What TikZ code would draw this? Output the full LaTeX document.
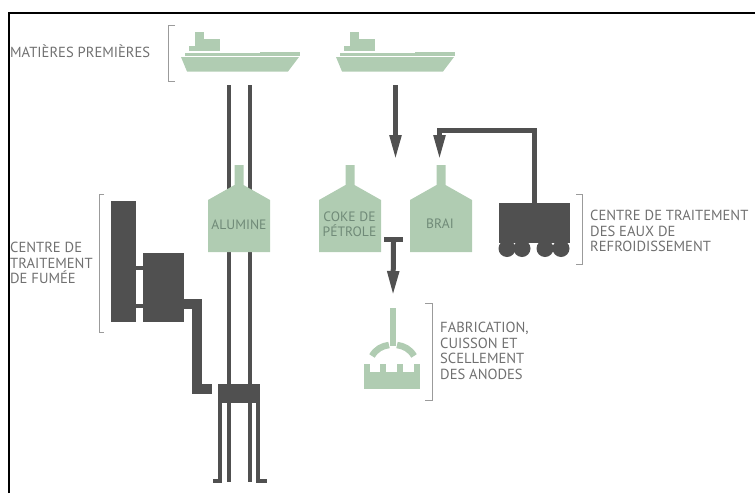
\documentclass[tikz,border=0pt]{standalone}
\usepackage{fontspec}
\setmainfont{PT Sans}
\usetikzlibrary{arrows.meta}

\definecolor{PlantGreen}{RGB}{176,204,178}
\definecolor{PlantDark}{RGB}{80,80,80}
\definecolor{PlantGrey}{RGB}{112,112,112}
\definecolor{PlantLabel}{RGB}{112,138,120}

\tikzset{
    caption/.style={inner sep=0, anchor=west, align=left, text=PlantGrey, font=\fontsize{14.6}{15.6}\selectfont},
    silolabel/.style={inner sep=0, align=center, text=PlantLabel, font=\fontsize{13.6}{15}\selectfont},
    darkbox/.style={fill=PlantDark, inner sep=0},
    pipe/.style={draw=PlantDark, line width=4pt},
    flow/.style={draw=PlantDark, line width=5pt, -{Triangle[length=25pt,width=11pt]}},
    duct/.style={draw=PlantDark, line width=10pt},
    bracket/.style={draw=PlantGrey!70, line width=1pt},
    ship/.pic={
        \fill[PlantGreen] (-64,-3) -- (51,-3) -- (51,0) -- (-64,0) -- cycle;
        \fill[PlantGreen] (-68,1) -- (50,1) -- (39,15.5) -- (-62,15.5) -- cycle;
        \fill[PlantGreen] (11,-4) -- (51,-4) -- (51,-2) -- (11,-2) -- cycle;
        \fill[PlantGreen] (-60,-10) rectangle (-29,-5);
        \fill[PlantGreen] (-45,-17) rectangle (-29,-9);
        \fill[PlantGreen] (-54,-24) rectangle (-45,-9);
    },
    silo/.pic={
        \fill[PlantGreen] (-4.5,-87) -- (4.5,-87) -- (4.5,-67) -- (31,-52) -- (31,0) -- (-31,0) -- (-31,-52) -- (-4.5,-67) -- cycle;
    }
}

\begin{document}
\begin{tikzpicture}[x=1pt,y=-1pt]
    \useasboundingbox (0,0) rectangle (755,493);
    \draw[black, line width=2pt] (9,493) -- (9,13) -- (755,13);

    % raw materials
    \pic at (249,56) {ship};
    \pic at (404,56) {ship};
    \node[caption] (matieres) at (10,51) {MATIÈRES PREMIÈRES};
    \draw[bracket] (175,25) -- (168,25) -- (168,81) -- (175,81);

    % pipes run behind the alumina silo
    \coordinate (pipeLtop) at (228.5,85);
    \coordinate (pipeRtop) at (249.5,85);
    \coordinate (pipeLend) at (228.5,482);
    \coordinate (pipeRend) at (249.5,482);
    \draw[pipe] (pipeLtop) -- (pipeLend);
    \draw[pipe] (pipeRtop) -- (pipeRend);

    % silos
    \pic at (239,252) {silo};
    \pic at (350,252) {silo};
    \pic at (441,252) {silo};
    \node[silolabel] (alumine) at (239,225) {ALUMINE};
    \node[silolabel] (coke) at (349.5,224) {COKE DE\\PÉTROLE};
    \node[silolabel] (brai) at (440,224) {BRAI};

    % cooling water
    \node[darkbox, minimum width=71pt, minimum height=40pt] (eaux) at (534.5,223) {};
    \foreach \x in {507,522,545,561}
        \fill[PlantDark] (\x,248.5) circle (8.5);
    \coordinate (ship2out) at (395.5,85);
    \coordinate (cokein) at (395.5,160);
    \coordinate (braiin) at (439.5,160);
    \draw[flow] (ship2out) -- (cokein);
    \draw[flow] (eaux.north) |- ++(-95,-72) -- (braiin);
    \node[caption] (eauxtxt) at (590,231) {CENTRE DE TRAITEMENT\\DES EAUX DE\\REFROIDISSEMENT};
    \draw[bracket] (576,194) -- (582,194) -- (582,264) -- (576,264);

    % anodes
    \node[darkbox, minimum width=19pt, minimum height=5pt] (tbar) at (393.5,239.5) {};
    \coordinate (anodein) at (393,296);
    \draw[flow] (tbar.south) -- (anodein);
    \fill[PlantGreen] (389.5,308) rectangle (396,346);
    \draw[PlantGreen, line width=6.5pt] (372,356) .. controls (376,349) and (382,346) .. (389,345);
    \draw[PlantGreen, line width=6.5pt] (414,356) .. controls (410,349) and (404,346) .. (397,345);
    \fill[PlantGreen] (364,372) rectangle (420,389);
    \foreach \x in {364,380,397,414}
        \fill[PlantGreen] (\x,364) rectangle ++(6,9);
    \node[caption] (anodes) at (440,351) {FABRICATION,\\CUISSON ET\\SCELLEMENT\\DES ANODES};
    \draw[bracket] (425,303) -- (432,303) -- (432,400) -- (425,400);

    % smoke treatment
    \node[darkbox, minimum width=25pt, minimum height=121pt] (tour) at (123.5,261.5) {};
    \node[darkbox, minimum width=41pt, minimum height=69pt] (filtre) at (163.5,287.5) {};
    \draw[pipe] (tour.east |- 0,268) -- (filtre.west |- 0,268);
    \draw[pipe] (tour.east |- 0,306) -- (filtre.west |- 0,306);
    \node[darkbox, minimum width=42pt, minimum height=19pt] (cuve) at (239,393.5) {};
    \coordinate (ductend) at (212,388.5);
    \draw[duct] (filtre.east |- 0,304) -- (197,304) -- (197,388.5) -- (ductend);
    \node[caption] (fumee) at (10,263) {CENTRE DE\\TRAITEMENT\\DE FUMÉE};
    \draw[bracket] (104,194) -- (99,194) -- (99,332) -- (104,332);

    % legs below the pot
    \coordinate (footL) at (213,481);
    \coordinate (footR) at (267,481);
    \draw[pipe] (cuve.south -| 220,0) |- (footL);
    \draw[pipe] (cuve.south -| 258,0) |- (footR);
\end{tikzpicture}
\end{document}
